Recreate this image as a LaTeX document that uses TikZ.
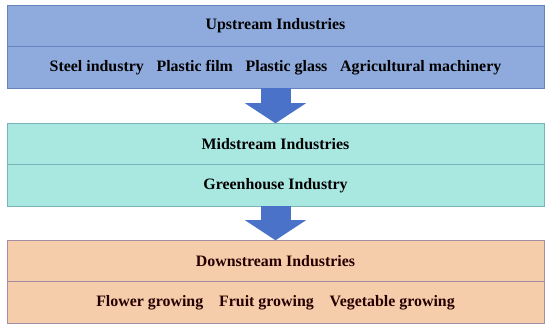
\documentclass[tikz,border=0pt]{standalone}
\usepackage{fontspec}
\setmainfont{Liberation Serif}
\usepackage{xcolor}
\usetikzlibrary{arrows.meta, positioning}
\definecolor{upfill}{HTML}{8FAADC}
\definecolor{updraw}{HTML}{6685BE}
\definecolor{midfill}{HTML}{A9E7E1}
\definecolor{middraw}{HTML}{7AB3BA}
\definecolor{downfill}{HTML}{F6CDAA}
\definecolor{downdraw}{HTML}{A58DA3}
\definecolor{flowblue}{HTML}{4A72C8}

\begin{document}
\begin{tikzpicture}[
  x=1pt, y=-1pt,
  font=\fontsize{15.9}{18}\selectfont\bfseries,
  row/.style={rectangle, draw, line width=0.9pt, minimum width=537pt,
              minimum height=41.5pt, inner sep=0pt, outer sep=0pt},
  uprow/.style={row, fill=upfill, draw=updraw},
  midrow/.style={row, fill=midfill, draw=middraw},
  downrow/.style={row, fill=downfill, draw=downdraw, text=black!85!red},
  flow/.style={line width=30pt, draw=flowblue,
               -{Triangle[width=61pt, length=20pt, line width=0pt]}}
]
\useasboundingbox (0,0) rectangle (550,328);

% Upstream
\node[uprow] (uptitle) at (275.5,26) {Upstream Industries};
\node[uprow, below=0pt of uptitle] (upitems)
  {Steel industry\hspace{0.8em}Plastic film\hspace{0.8em}Plastic glass\hspace{0.8em}Agricultural machinery};

% Midstream
\node[midrow, below=35pt of upitems] (midtitle) {Midstream Industries};
\node[midrow, below=0pt of midtitle] (miditems) {Greenhouse Industry};

% Downstream
\node[downrow, below=34pt of miditems] (downtitle) {Downstream Industries};
\node[downrow, below=0pt of downtitle] (downitems)
  {Flower growing\hspace{1em}Fruit growing\hspace{1em}Vegetable growing};

% Flow arrows
\draw[flow] (upitems.south) -- (midtitle.north);
\draw[flow] (miditems.south) -- (downtitle.north);

\end{tikzpicture}
\end{document}
